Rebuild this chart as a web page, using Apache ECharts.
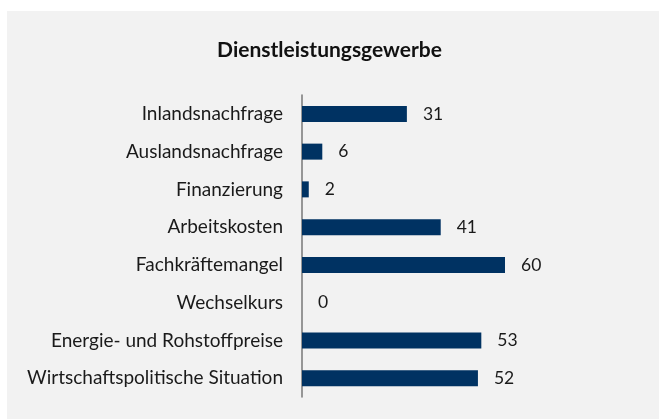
<!DOCTYPE html>
<html>
<head>
<meta charset="utf-8">
<script src="https://cdn.jsdelivr.net/npm/echarts@6/dist/echarts.min.js"></script>
<style>
  html, body { margin: 0; padding: 0; background: #fff; }
  #chart { width: 659px; height: 419px; }
</style>
</head>
<body>
<div id="chart"></div>
<script>
var categories = ['Inlandsnachfrage', 'Auslandsnachfrage', 'Finanzierung', 'Arbeitskosten',
  'Fachkräftemangel', 'Wechselkurs', 'Energie- und Rohstoffpreise', 'Wirtschaftspolitische Situation'];
var values = [31, 6, 2, 41, 60, 0, 53, 52];

var chart = echarts.init(document.getElementById('chart'));
var font = 'Lato';
chart.setOption({
  backgroundColor: '#fff',
  animation: false,
  graphic: [{
    type: 'rect', z: -10,
    shape: { x: 7, y: 11, width: 652, height: 408 },
    style: { fill: '#f2f2f2' }
  }],
  title: {
    text: 'Dienstleistungsgewerbe',
    left: 'center', top: 35,
    textStyle: { fontFamily: font, fontSize: 21, fontWeight: 'bold', color: '#111' }
  },
  grid: { left: 302, top: 95, width: 203, height: 302 },
  xAxis: {
    type: 'value', min: 0, max: 60,
    show: false
  },
  yAxis: {
    type: 'category', inverse: true,
    data: categories,
    axisLine: { lineStyle: { color: '#777', width: 1.5 } },
    axisTick: { show: false },
    axisLabel: { fontFamily: font, fontSize: 19, color: '#1a1a1a', margin: 19 }
  },
  series: [{
    type: 'bar',
    data: values,
    barWidth: 16,
    itemStyle: { color: '#003262' },
    label: {
      show: true, position: 'right', distance: 16,
      fontFamily: font, fontSize: 17.5, color: '#1a1a1a'
    }
  }]
});
</script>
</body>
</html>
